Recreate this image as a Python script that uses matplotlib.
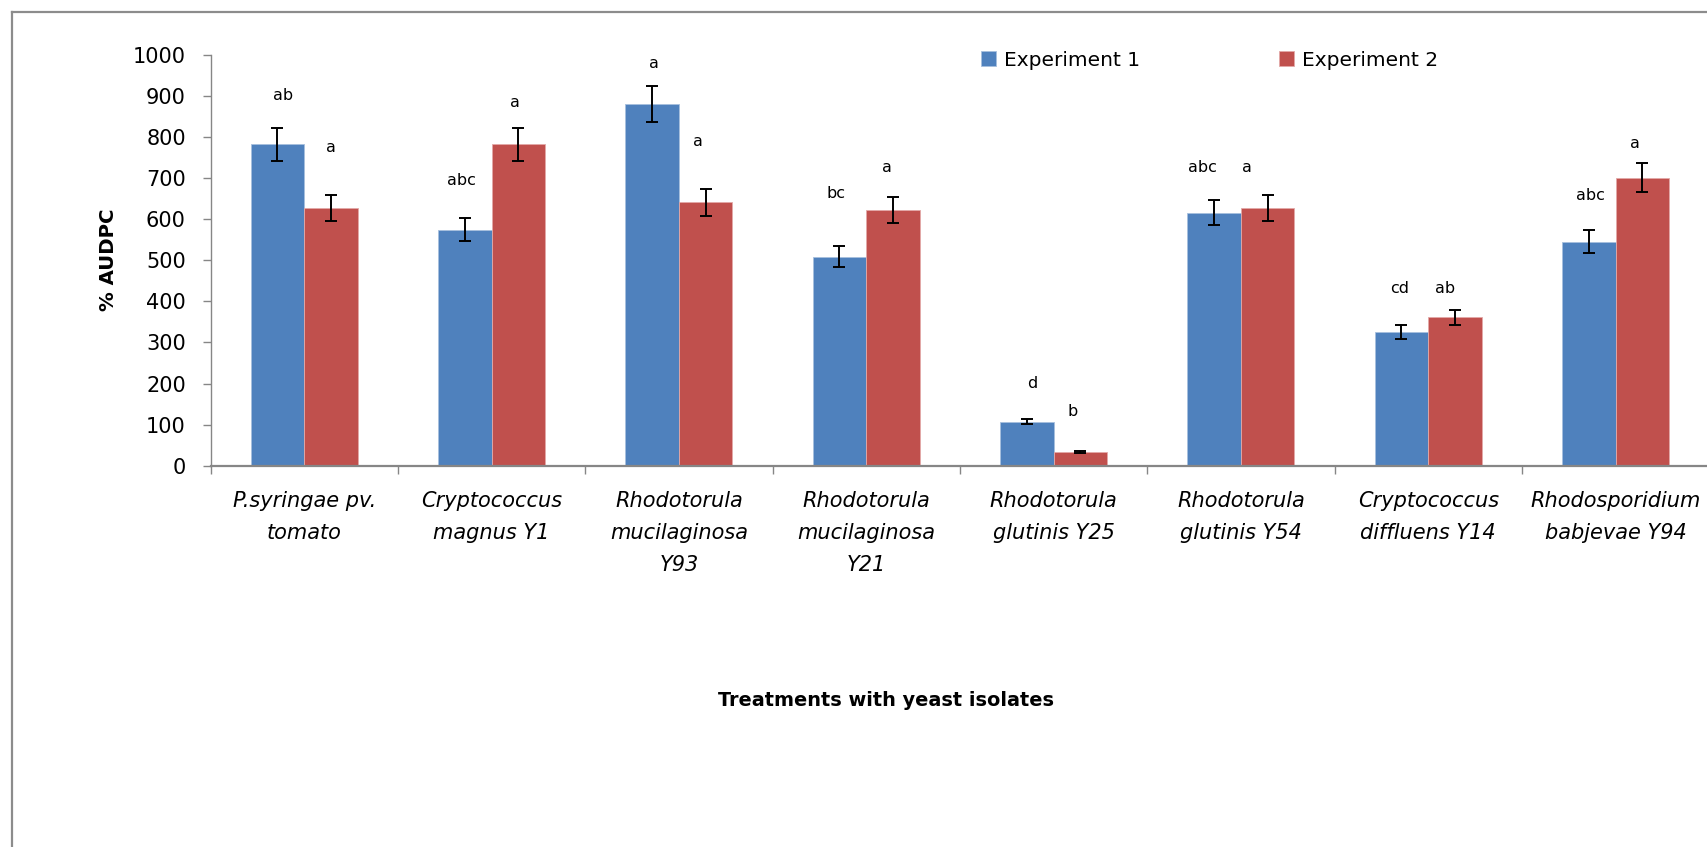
import matplotlib
matplotlib.use("Agg")
import matplotlib.pyplot as plt
from matplotlib.lines import Line2D
import numpy as np

# Treatments (x categories)
categories = [
    "P.syringae pv.\ntomato",
    "Cryptococcus\nmagnus Y1",
    "Rhodotorula\nmucilaginosa\nY93",
    "Rhodotorula\nmucilaginosa\nY21",
    "Rhodotorula\nglutinis Y25",
    "Rhodotorula\nglutinis Y54",
    "Cryptococcus\ndiffluens Y14",
    "Rhodosporidium\nbabjevae Y94",
]

# % AUDPC means and standard errors
exp1 = [783, 575, 881, 509, 107, 616, 326, 545]
exp1_err = [40, 29, 44, 26, 6, 31, 17, 28]
exp2 = [628, 783, 641, 623, 34, 627, 361, 701]
exp2_err = [32, 40, 32, 31, 2, 32, 18, 35]

# Mean separation letters
exp1_letters = ["ab", "abc", "a", "bc", "d", "abc", "cd", "abc"]
exp2_letters = ["a", "a", "a", "a", "b", "a", "ab", "a"]

y_ticks = [0, 100, 200, 300, 400, 500, 600, 700, 800, 900, 1000]
series_names = ["Experiment 1", "Experiment 2"]

# Letter placement (baseline height in data units, horizontal nudge in category units)
exp1_letter_y = [890, 683, 969, 651, 188, 714, 420, 647]
exp2_letter_y = [764, 874, 778, 716, 121, 714, 420, 774]
exp1_letter_dx = [0.03, -0.02, 0.01, -0.02, 0.03, -0.06, -0.01, 0.01]
exp2_letter_dx = [0.0, -0.02, -0.04, -0.03, -0.04, -0.11, -0.05, -0.04]

BLUE = "#4F81BD"
RED = "#C0504D"
GRAY = "#868686"

W, H, DPI = 1707, 847, 100
fig = plt.figure(figsize=(W / DPI, H / DPI), dpi=DPI)
fig.patch.set_facecolor("white")

# Outer chart frame (left and top edges)
fig.add_artist(Line2D([11.5 / W, 11.5 / W], [0, 1 - 12.3 / H], color="#8C8C8C", lw=1.6))
fig.add_artist(Line2D([11.5 / W, 1], [1 - 12.3 / H, 1 - 12.3 / H], color="#8C8C8C", lw=1.6))

left, right, top, bottom = 210.5, 1709.2, 55.0, 465.7
ax = fig.add_axes([left / W, 1 - bottom / H, (right - left) / W, (bottom - top) / H])

x = np.arange(len(categories))
bw = 0.285
err_kw = dict(ecolor="black", elinewidth=1.4, capsize=4.1, capthick=1.4)
ax.bar(x - bw / 2, exp1, bw, yerr=exp1_err, color=BLUE, edgecolor="#A7BFDE",
       linewidth=0.6, label=series_names[0], error_kw=err_kw, zorder=2)
ax.bar(x + bw / 2, exp2, bw, yerr=exp2_err, color=RED, edgecolor="#E3A9A8",
       linewidth=0.6, label=series_names[1], error_kw=err_kw, zorder=2)

for i in range(len(categories)):
    ax.text(x[i] - bw / 2 + exp1_letter_dx[i], exp1_letter_y[i], exp1_letters[i],
            ha="center", va="baseline", fontsize=11.5, color="black")
    ax.text(x[i] + bw / 2 + exp2_letter_dx[i], exp2_letter_y[i], exp2_letters[i],
            ha="center", va="baseline", fontsize=11.5, color="black")

ax.set_xlim(-0.5, len(categories) - 0.5)
ax.set_ylim(0, 1000)
ax.set_yticks(y_ticks)
ax.tick_params(axis="y", direction="out", length=5.8, width=1.0, color=GRAY,
               labelsize=15, pad=12)

ax.set_xticks(x)
ax.set_xticklabels(categories, fontsize=15, style="italic", linespacing=1.75)
ax.tick_params(axis="x", which="major", length=0, pad=18)
ax.set_xticks(np.arange(len(categories) + 1) - 0.5, minor=True)
ax.tick_params(axis="x", which="minor", direction="out", length=5.8, width=1.0, color=GRAY)

for s in ("top", "right"):
    ax.spines[s].set_visible(False)
ax.spines["left"].set_color(GRAY)
ax.spines["left"].set_linewidth(1.0)
ax.spines["bottom"].set_color(GRAY)
ax.spines["bottom"].set_linewidth(1.6)

fig.text(109 / W, 1 - 260 / H, "% AUDPC", rotation=90, ha="center", va="center",
         fontsize=14.2, fontweight="bold")
fig.text(886 / W, 1 - 700 / H, "Treatments with yeast isolates", ha="center", va="center",
         fontsize=13.9, fontweight="bold")

ax.legend(loc="center left", bbox_to_anchor=(981 / W, 1 - 60 / H),
          bbox_transform=fig.transFigure, ncol=2, frameon=False, fontsize=14.5,
          handlelength=0.73, handleheight=0.73, handletextpad=0.4,
          columnspacing=6.9, borderpad=0, borderaxespad=0)

fig.savefig("out.png", dpi=DPI, facecolor="white")
